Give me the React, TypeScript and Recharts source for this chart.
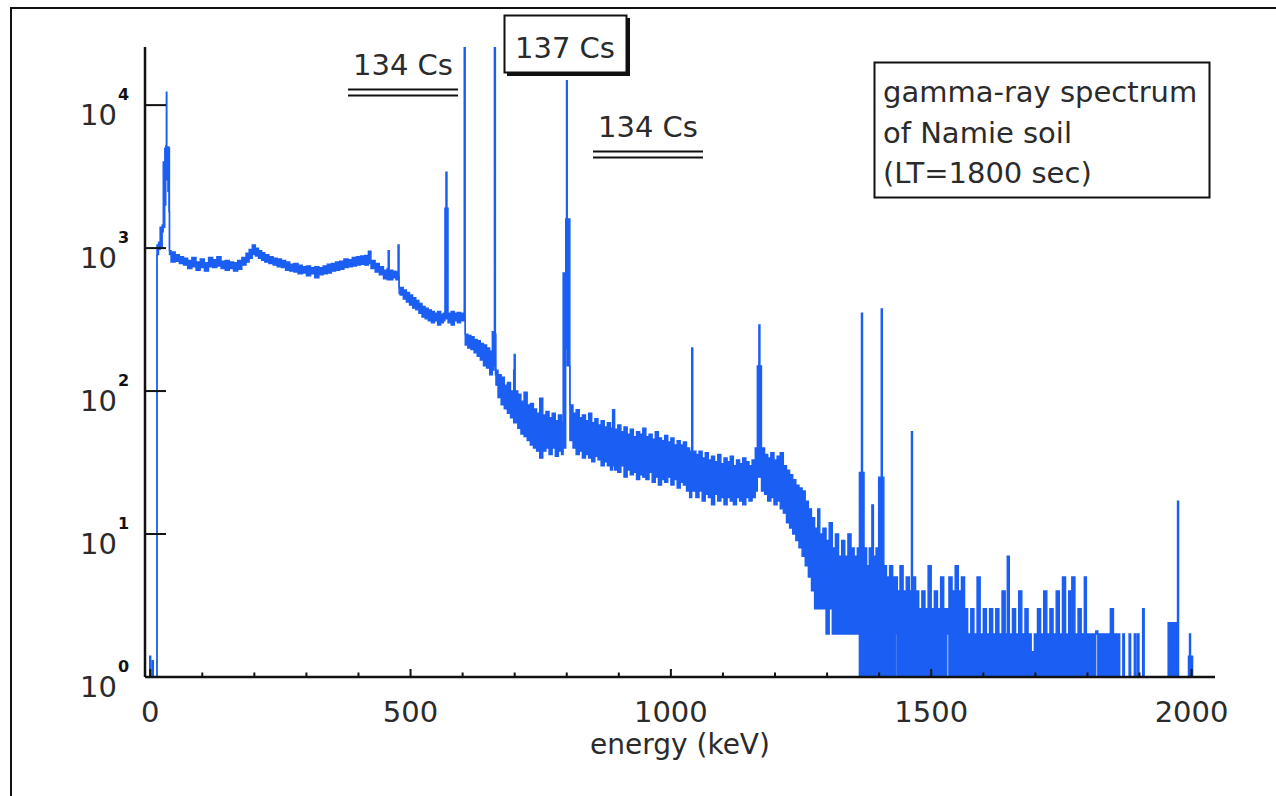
import { AreaChart, Area, XAxis, YAxis, Label } from "recharts"

// [energy keV, low count, high count]
type Row = [number, number, number]

const xRayRegion: Row[] = [
  [-4, 0.5, 0.5], [-1, 0.5, 1.4], [1, 0.5, 0.5], [4, 0.5, 1.3], [6, 0.5, 0.5],
  [13, 900, 1050], [16, 980, 1100], [19, 1000, 1400], [23, 1300, 1450],
  [25, 1400, 4000], [28, 2000, 5000], [30, 3000, 5200], [31, 3500, 12300],
  [32, 3000, 5000], [34, 2500, 5100], [36, 1800, 5000], [37, 900, 960],
]

const lowContinuum: Row[] = [
  [40, 800, 940], [48, 810, 900], [56, 780, 870], [64, 760, 850], [72, 720, 820],
  [80, 740, 860], [88, 700, 800], [96, 730, 840], [104, 690, 790], [112, 740, 860],
  [120, 730, 830], [128, 750, 870], [136, 720, 810], [144, 700, 820], [152, 720, 800],
  [160, 690, 790], [168, 710, 820], [176, 760, 860], [184, 800, 920], [190, 850, 980],
  [196, 900, 1050], [202, 880, 1000], [208, 850, 960], [214, 820, 930], [220, 800, 900],
  [228, 780, 870], [236, 760, 850], [244, 740, 840], [252, 730, 820], [260, 700, 800],
  [268, 690, 770], [276, 680, 780], [284, 660, 760], [292, 670, 740], [300, 640, 750],
  [308, 660, 730], [316, 620, 740], [324, 650, 730], [332, 660, 750], [340, 670, 770],
  [348, 690, 780], [356, 700, 800], [364, 710, 810], [372, 730, 840], [380, 740, 830],
  [388, 750, 860], [396, 760, 870], [404, 770, 880], [412, 760, 890], [419, 780, 950],
  [424, 720, 820], [432, 680, 780], [440, 650, 740], [448, 610, 700], [455, 600, 720],
  [457, 620, 960], [459, 600, 700], [466, 620, 690], [472, 600, 680], [476, 630, 1050],
  [478, 480, 530],
]

const csRegion: Row[] = [
  [480, 470, 530], [486, 440, 510], [492, 420, 490], [498, 400, 470], [504, 380, 450],
  [510, 370, 430], [516, 350, 410], [522, 330, 390], [528, 320, 380], [534, 310, 370],
  [540, 300, 360], [546, 310, 350], [552, 290, 360], [558, 300, 345], [563, 310, 350],
  [566, 320, 1900], [568, 350, 3400], [570, 320, 1900], [572, 300, 350], [578, 290, 360],
  [584, 310, 350], [590, 300, 355], [596, 310, 350], [601, 310, 340], [603, 320, 26000],
  [605, 210, 250], [610, 200, 245], [616, 195, 240], [622, 185, 230], [628, 175, 225],
  [634, 165, 215], [640, 150, 210], [646, 145, 200], [652, 130, 190], [657, 140, 260],
  [660, 150, 250], [661, 160, 26000], [663, 130, 250], [664, 110, 140],
]

const midContinuum: Row[] = [
  [668, 90, 130], [674, 80, 125], [680, 75, 110], [686, 70, 115], [692, 65, 100],
  [698, 60, 140], [699, 70, 180], [701, 60, 100], [706, 55, 95], [712, 50, 85],
  [718, 48, 98], [724, 45, 80], [730, 42, 82], [736, 40, 75], [742, 38, 70],
  [748, 34, 89], [754, 38, 68], [760, 40, 72], [766, 36, 65], [772, 40, 70],
  [778, 35, 62], [784, 38, 68], [790, 36, 60], [793, 40, 670], [798, 200, 1600],
  [799.5, 300, 14800], [801, 150, 1600], [806, 45, 80], [812, 40, 70], [818, 36, 74],
  [824, 38, 65], [830, 34, 68], [836, 36, 62], [842, 34, 70], [848, 32, 60],
  [854, 35, 64], [860, 33, 58], [866, 30, 62], [872, 32, 56], [878, 30, 60],
  [884, 28, 55], [888, 30, 74], [892, 28, 54], [898, 27, 58], [904, 30, 52],
  [910, 25, 56], [916, 28, 50], [922, 26, 54], [928, 27, 48], [934, 24, 52],
  [940, 26, 50], [946, 25, 55], [952, 24, 48], [958, 27, 50], [964, 23, 46],
  [970, 25, 52], [976, 22, 47], [982, 24, 45], [988, 23, 49], [994, 25, 44],
  [1000, 22, 47], [1006, 24, 42], [1012, 21, 45], [1018, 23, 42], [1024, 22, 44],
  [1030, 20, 40], [1036, 18, 38], [1040, 22, 200], [1042, 20, 38],
]

const highContinuum: Row[] = [
  [1048, 18, 36], [1054, 20, 38], [1060, 17, 34], [1066, 19, 37], [1072, 18, 33],
  [1078, 16, 35], [1084, 19, 32], [1090, 17, 36], [1096, 18, 31], [1102, 16, 34],
  [1108, 18, 32], [1114, 17, 35], [1120, 16, 30], [1126, 18, 33], [1132, 17, 31],
  [1138, 16, 34], [1144, 18, 32], [1150, 17, 30], [1156, 18, 33], [1162, 20, 40],
  [1166, 25, 150], [1169, 30, 290], [1171, 25, 150], [1174, 20, 40], [1180, 19, 36],
  [1186, 17, 34], [1192, 18, 37], [1198, 16, 33], [1204, 17, 35], [1210, 15, 37],
  [1216, 14, 30], [1222, 12, 28], [1228, 11, 26], [1234, 10, 24], [1240, 9, 22],
  [1246, 8, 21], [1252, 7, 20], [1258, 6, 17], [1264, 5, 15], [1270, 4, 13],
  [1276, 3, 11], [1282, 3, 15], [1286, 3, 10], [1292, 3, 11], [1298, 2, 9],
  [1304, 3, 12], [1310, 2, 8], [1316, 2, 10], [1322, 2, 7], [1328, 2, 9],
  [1334, 2, 7], [1340, 2, 10], [1346, 2, 8], [1352, 2, 7], [1358, 2, 8],
  [1362, 1, 27],
]

const sparseTail: Row[] = [
  [1366, 0.5, 350], [1368, 0.5, 27], [1371, 0.5, 8], [1376, 0.5, 6], [1381, 0.5, 8],
  [1386, 0.5, 16], [1389, 0.5, 7], [1394, 0.5, 8], [1399, 0.5, 25], [1404, 0.5, 375],
  [1406, 0.5, 25], [1409, 0.5, 6], [1414, 0.5, 5], [1420, 0.5, 6], [1426, 0.5, 5],
  [1432, 2, 5], [1435, 0.5, 4], [1440, 0.5, 6], [1446, 0.5, 4], [1452, 0.5, 5],
  [1458, 0.5, 4], [1462, 0.5, 52], [1464, 0.5, 5], [1470, 0.5, 4], [1476, 0.5, 3],
  [1482, 0.5, 4], [1488, 0.5, 3], [1494, 0.5, 6], [1500, 0.5, 3], [1506, 0.5, 4],
  [1512, 0.5, 3], [1518, 0.5, 5], [1524, 0.5, 3], [1530, 2, 3], [1534, 0.5, 5],
  [1540, 0.5, 4], [1546, 0.5, 6], [1552, 0.5, 4], [1558, 0.5, 5], [1564, 0.5, 3],
  [1570, 0.5, 2], [1576, 0.5, 3], [1582, 0.5, 2], [1588, 0.5, 5], [1594, 0.5, 2],
  [1600, 0.5, 3], [1606, 0.5, 2], [1612, 0.5, 3], [1618, 0.5, 2], [1624, 0.5, 3],
  [1630, 0.5, 2], [1636, 0.5, 4], [1642, 0.5, 2], [1646, 0.5, 7], [1650, 0.5, 2],
  [1656, 0.5, 3], [1662, 0.5, 2], [1668, 0.5, 4], [1674, 0.5, 2], [1680, 0.5, 3],
  [1686, 0.5, 2], [1692, 0.5, 1.5], [1698, 0.5, 2], [1704, 0.5, 3], [1710, 0.5, 2],
  [1716, 0.5, 4], [1722, 0.5, 2], [1728, 0.5, 3], [1734, 0.5, 2], [1740, 0.5, 4],
  [1746, 0.5, 2], [1752, 0.5, 5], [1758, 0.5, 2], [1764, 0.5, 4], [1770, 0.5, 5],
  [1776, 0.5, 2], [1782, 0.5, 3], [1788, 0.5, 2], [1794, 0.5, 5], [1798, 0.5, 2],
  [1810, 0.5, 2], [1816, 2, 2.1], [1820, 0.5, 2], [1826, 0.5, 2], [1832, 0.5, 2],
  [1838, 0.5, 2], [1844, 0.5, 3], [1850, 0.5, 2], [1856, 0.5, 2], [1862, 0.5, 1],
  [1868, 0.5, 2], [1871, 0.5, 1], [1880, 0.5, 2], [1883, 0.5, 1], [1890, 0.5, 2],
  [1893, 0.5, 1], [1896, 0.5, 2], [1899, 0.5, 1], [1906, 0.5, 3], [1909, 0.5, 1],
  [1955, 0.5, 2.4], [1973, 0.5, 17], [1975, 0.5, 1], [1994, 0.5, 1.4], [1996, 0.5, 2],
  [1998, 0.5, 1.4], [2002, 0.5, 0.5],
]

const energyTicks = [0, 100, 200, 300, 400, 500, 600, 700, 800, 900, 1000, 1100, 1200, 1300, 1400, 1500, 1600, 1700, 1800, 1900, 2000]
const majorEnergyTicks = [0, 500, 1000, 1500, 2000]
const countTicks = [1, 10, 100, 1000, 10000]

const legendLines = ["gamma-ray spectrum", "of Namie soil", "(LT=1800 sec)"]

const data = [...xRayRegion, ...lowContinuum, ...csRegion, ...midContinuum, ...highContinuum, ...sparseTail].map(
  ([e, lo, hi]) => ({ e, band: [lo, hi] })
)

const FONT = "'DejaVu Sans', Verdana, sans-serif"
const TEXT = "#2b2b2b"
const BLUE = "#1b5ef3"

function EnergyTick(props: any) {
  const { x, y, payload } = props
  const major = majorEnergyTicks.includes(payload.value)
  return (
    <g>
      <line x1={x} x2={x} y1={y} y2={y - (major ? 8 : 4.5)} stroke="#111" strokeWidth={2} />
      {major && (
        <text x={x} y={y + 45} textAnchor="middle" fontSize={29} fill={TEXT} fontFamily={FONT}>
          {payload.value}
        </text>
      )}
    </g>
  )
}

function CountTick(props: any) {
  const { x, y, payload } = props
  const exp = Math.round(Math.log10(payload.value))
  return (
    <g>
      <line x1={x} x2={x + 21} y1={y} y2={y} stroke="#111" strokeWidth={2} />
      <text x={x - 28} y={y + 20} textAnchor="end" fontSize={29} fill={TEXT} fontFamily={FONT}>
        10
      </text>
      <text x={x - 27} y={y - 5} fontSize={16} fontWeight="bold" fill="#111" fontFamily={FONT}>
        {exp}
      </text>
    </g>
  )
}

function EnergyTitle(props: any) {
  const { viewBox } = props
  return (
    <text
      x={viewBox.x + viewBox.width / 2}
      y={viewBox.y + 77}
      textAnchor="middle"
      fontSize={28}
      fill={TEXT}
      fontFamily={FONT}
    >
      energy (keV)
    </text>
  )
}

function Annotations() {
  return (
    <svg width={1276} height={796} style={{ position: "absolute", left: 0, top: 0, pointerEvents: "none" }}>
      {/* 134Cs, left */}
      <text x={353} y={75} fontSize={29} fill={TEXT} fontFamily={FONT}>134 Cs</text>
      <line x1={348} x2={458} y1={89.5} y2={89.5} stroke="#111" strokeWidth={2} />
      <line x1={348} x2={458} y1={95.5} y2={95.5} stroke="#111" strokeWidth={2} />

      {/* 137Cs boxed */}
      <rect x={507} y={18} width={123} height={58} fill="#111" />
      <rect x={504.5} y={15.5} width={122} height={57} fill="#fff" stroke="#111" strokeWidth={2} />
      <text x={515} y={58} fontSize={29} fill={TEXT} fontFamily={FONT}>137 Cs</text>

      {/* 134Cs, right */}
      <text x={598} y={137} fontSize={29} fill={TEXT} fontFamily={FONT}>134 Cs</text>
      <line x1={593} x2={703} y1={151.5} y2={151.5} stroke="#111" strokeWidth={2} />
      <line x1={593} x2={703} y1={157.5} y2={157.5} stroke="#111" strokeWidth={2} />

      {/* legend box */}
      <rect x={874.5} y={62.5} width={335} height={135} fill="#fff" stroke="#111" strokeWidth={2} />
      {legendLines.map((line, i) => (
        <text key={line} x={883} y={102 + i * 40.7} fontSize={29} fill={TEXT} fontFamily={FONT}>
          {line}
        </text>
      ))}
    </svg>
  )
}

export default function App() {
  return (
    <div style={{ position: "absolute", left: 0, top: 0, width: 1276, height: 796, background: "#fff", overflow: "hidden" }}>
      <div
        style={{
          position: "absolute",
          left: 10,
          top: 7,
          width: 1300,
          height: 800,
          borderTop: "2px solid #111",
          borderLeft: "2px solid #111",
        }}
      />
      <div style={{ position: "absolute", left: 0, top: 0 }}>
        <AreaChart width={1276} height={796} data={data} margin={{ top: 47, right: 61, bottom: 59, left: 0 }}>
          <XAxis
            dataKey="e"
            type="number"
            domain={[-10, 2045]}
            allowDataOverflow
            ticks={energyTicks}
            interval={0}
            tickSize={0}
            tickMargin={0}
            height={60}
            axisLine={{ stroke: "#111", strokeWidth: 2.5 }}
            tickLine={false}
            tick={<EnergyTick />}
            label={<Label content={<EnergyTitle />} />}
          />
          <YAxis
            scale="log"
            type="number"
            domain={[1, 25500]}
            allowDataOverflow
            ticks={countTicks}
            interval={0}
            tickSize={0}
            tickMargin={0}
            width={145}
            axisLine={{ stroke: "#111", strokeWidth: 2.5 }}
            tickLine={false}
            tick={<CountTick />}
          />
          <Area
            type="stepAfter"
            dataKey="band"
            stroke={BLUE}
            strokeWidth={1.4}
            fill={BLUE}
            fillOpacity={1}
            dot={false}
            activeDot={false}
            isAnimationActive={false}
          />
        </AreaChart>
      </div>
      <Annotations />
    </div>
  )
}
